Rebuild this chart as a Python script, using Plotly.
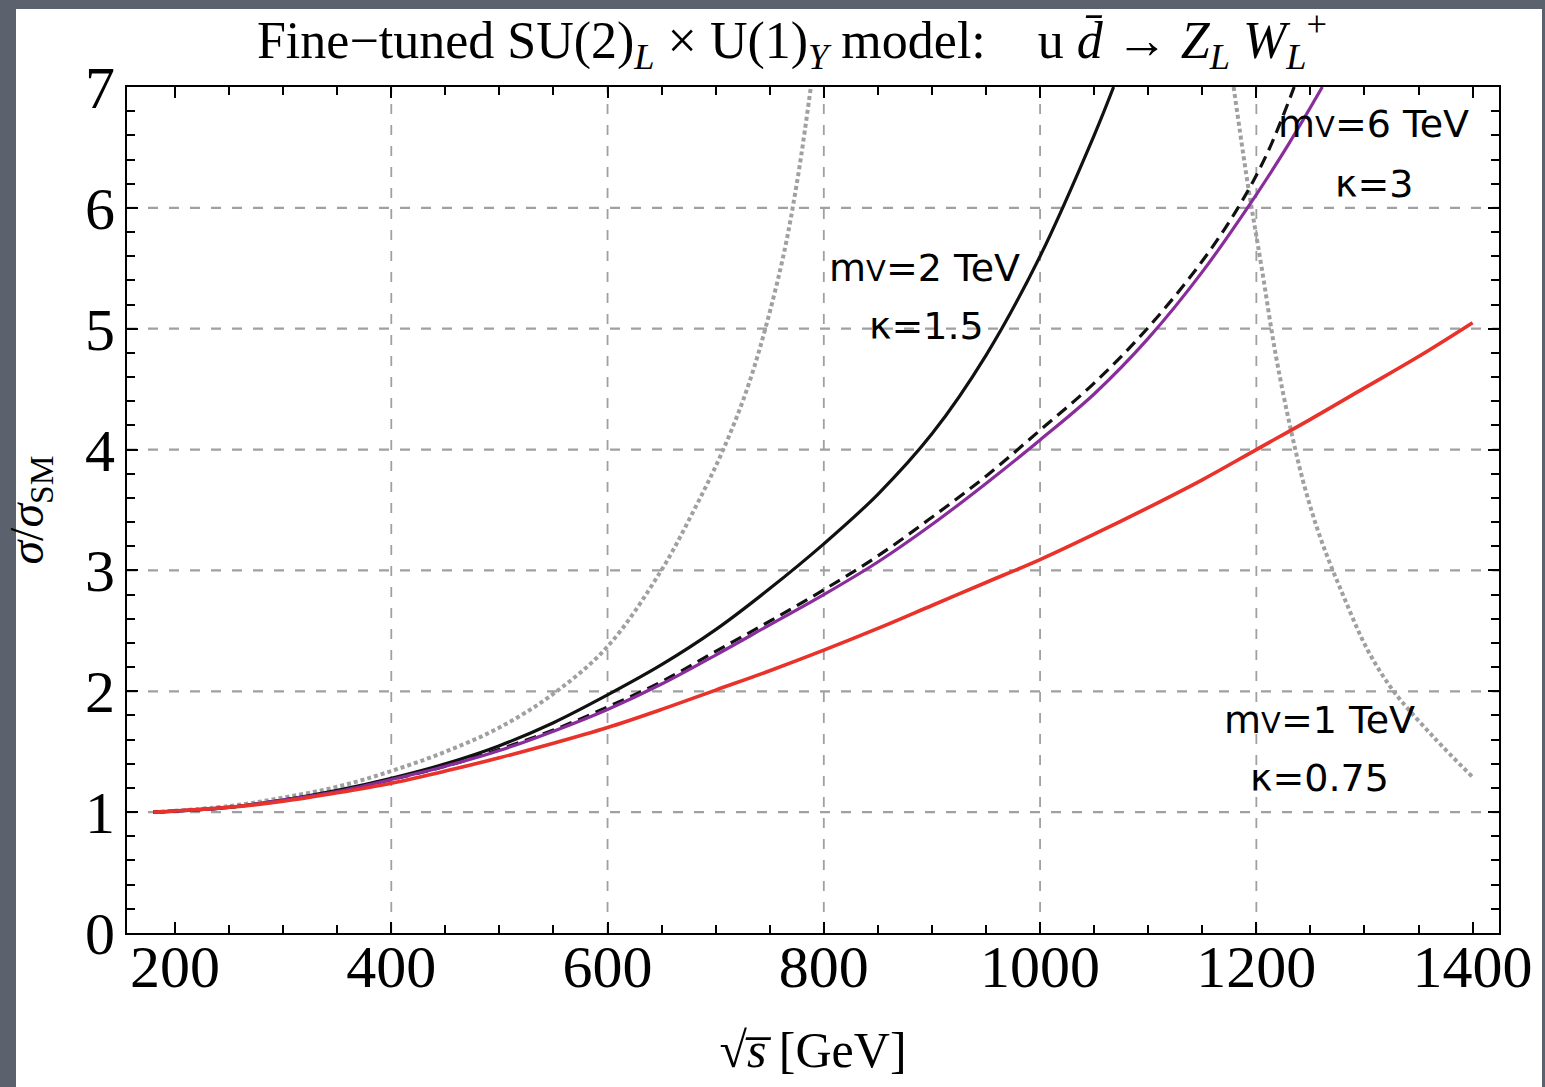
import plotly.graph_objects as go

# ---------------- data ----------------
x_red = [180, 250, 300, 350, 400, 450, 500, 550, 600, 650, 700, 750, 800, 850, 900,
         950, 1000, 1050, 1100, 1150, 1200, 1250, 1300, 1350, 1400]
y_red = [1.0, 1.04, 1.09, 1.16, 1.24, 1.34, 1.45, 1.57, 1.70, 1.85, 2.01, 2.17, 2.34,
         2.52, 2.71, 2.90, 3.09, 3.30, 3.52, 3.75, 4.0, 4.25, 4.51, 4.77, 5.05]

x_black = [180, 250, 300, 350, 400, 450, 500, 550, 600, 650, 700, 750, 800, 850, 900,
           950, 1000, 1050, 1068]
y_black = [1.0, 1.04, 1.10, 1.18, 1.28, 1.40, 1.55, 1.74, 1.97, 2.22, 2.51, 2.85, 3.22,
           3.63, 4.13, 4.78, 5.60, 6.60, 7.0]

x_dashed = [180, 250, 300, 350, 400, 450, 500, 550, 600, 650, 700, 750, 800, 850, 900,
            950, 1000, 1050, 1100, 1150, 1183, 1210, 1235]
y_dashed = [1.0, 1.04, 1.10, 1.17, 1.27, 1.38, 1.52, 1.68, 1.87, 2.08, 2.33, 2.58, 2.84,
            3.12, 3.44, 3.78, 4.16, 4.55, 5.01, 5.56, 6.0, 6.45, 7.0]

x_purple = [180, 250, 300, 350, 400, 450, 500, 550, 600, 650, 700, 750, 800, 850, 900,
            950, 1000, 1050, 1100, 1150, 1200, 1230, 1261]
y_purple = [1.0, 1.04, 1.10, 1.17, 1.27, 1.38, 1.51, 1.67, 1.85, 2.06, 2.30, 2.55, 2.80,
            3.07, 3.38, 3.72, 4.08, 4.46, 4.92, 5.47, 6.11, 6.53, 7.0]

x_dot_left = [180, 250, 300, 350, 400, 450, 500, 550, 600, 649, 680, 707, 732, 760, 775, 788]
y_dot_left = [1.0, 1.05, 1.12, 1.21, 1.34, 1.50, 1.70, 1.98, 2.37, 2.99, 3.5, 4.0, 4.58,
              5.5, 6.2, 7.0]

x_dot_right = [1179, 1192, 1205, 1218, 1232, 1245, 1260, 1280, 1303, 1327, 1364, 1400]
y_dot_right = [7.0, 6.2, 5.5, 4.78, 4.16, 3.68, 3.25, 2.8, 2.34, 2.0, 1.62, 1.29]

x_ticks = [200, 400, 600, 800, 1000, 1200, 1400]
y_ticks = [0, 1, 2, 3, 4, 5, 6, 7]
x_grid = [400, 600, 800, 1000, 1200]
y_grid = [1, 2, 3, 4, 5, 6]
x_range = [155.6, 1424.4]
y_range = [0, 7]

label_text = ["m<span style='font-size:29px'>V</span>=2 TeV", "κ=1.5",
              "m<span style='font-size:29px'>V</span>=6 TeV", "κ=3",
              "m<span style='font-size:29px'>V</span>=1 TeV", "κ=0.75"]
label_x = [893, 895, 1308, 1309, 1258, 1258]
label_y = [5.50, 5.02, 6.69, 6.20, 1.76, 1.28]

# ---------------- layout geometry ----------------
W, H = 1545, 1087
ML, MR, MT, MB = 127, 46, 87, 154
PW, PH = W - ML - MR, H - MT - MB


def px_to_paper_x(p):
    return (p - ML) / PW


def px_to_paper_y(p):
    return (H - MB - p) / PH


serif = "Liberation Serif, Times New Roman, serif"
hand = "DejaVu Sans, sans-serif"

fig = go.Figure()

dot_style = dict(color="#a0a0a0", width=4, dash="4px,3px", shape="spline")
fig.add_trace(go.Scatter(x=x_dot_left, y=y_dot_left, mode="lines", line=dot_style,
                         hoverinfo="skip", showlegend=False))
fig.add_trace(go.Scatter(x=x_dot_right, y=y_dot_right, mode="lines", line=dot_style,
                         hoverinfo="skip", showlegend=False))
fig.add_trace(go.Scatter(x=x_black, y=y_black, mode="lines",
                         line=dict(color="#111111", width=3.2, shape="spline"),
                         showlegend=False))
fig.add_trace(go.Scatter(x=x_dashed, y=y_dashed, mode="lines",
                         line=dict(color="#111111", width=3.2, dash="12px,7px", shape="spline"),
                         showlegend=False))
fig.add_trace(go.Scatter(x=x_purple, y=y_purple, mode="lines",
                         line=dict(color="#8a2d9c", width=3.2, shape="spline"),
                         showlegend=False))
fig.add_trace(go.Scatter(x=x_red, y=y_red, mode="lines",
                         line=dict(color="#e8322a", width=3.6, shape="spline"),
                         showlegend=False))

shapes = [dict(type="rect", xref="paper", yref="paper", layer="below",
               x0=px_to_paper_x(16), x1=px_to_paper_x(1542),
               y0=px_to_paper_y(1087), y1=px_to_paper_y(9),
               fillcolor="white", line=dict(width=0))]
for gx in x_grid:
    shapes.append(dict(type="line", xref="x", yref="paper", x0=gx, x1=gx, y0=0, y1=1,
                       layer="below", line=dict(color="#a0a0a0", width=1.8, dash="10px,11px")))
for gy in y_grid:
    shapes.append(dict(type="line", xref="paper", yref="y", x0=0, x1=1, y0=gy, y1=gy,
                       layer="below", line=dict(color="#a0a0a0", width=2.2, dash="10px,11px")))

annotations = []
for txt, ax_, ay_ in zip(label_text, label_x, label_y):
    annotations.append(dict(x=ax_, y=ay_, xref="x", yref="y", text=txt, showarrow=False,
                            font=dict(family=hand, size=38, color="black"),
                            xanchor="center", yanchor="middle"))

fig.update_layout(
    width=W, height=H,
    margin=dict(l=ML, r=MR, t=MT, b=MB, autoexpand=False),
    paper_bgcolor="#5c616e",
    plot_bgcolor="white",
    shapes=shapes,
    annotations=annotations,
    title=dict(
        text=("Fine−tuned SU(2)<sub><i>L</i></sub> × U(1)<sub><i>Y</i></sub> model:"
              "\u00a0\u00a0\u00a0 u <i>d̄</i> → <i>Z<sub>L</sub></i> <i>W</i><sub><i>L</i></sub><sup>+</sup>"),
        font=dict(family=serif, size=52, color="black"),
        x=px_to_paper_x(792), xref="paper", xanchor="center",
        y=1 - 40 / H, yref="container", yanchor="middle",
    ),
    xaxis=dict(
        range=x_range, tickmode="array", tickvals=x_ticks,
        ticks="inside", ticklen=11, tickwidth=1.5, tickcolor="black",
        minor=dict(tickmode="linear", tick0=200, dtick=50, ticks="inside", ticklen=8,
                   tickwidth=1.5, tickcolor="black", showgrid=False),
        showline=True, linecolor="black", linewidth=2, mirror="ticks",
        showgrid=False, zeroline=False,
        tickfont=dict(family=serif, size=60, color="black"),
        ticklabelstandoff=-20,
        title=dict(text="√<i>s̅</i> [GeV]", font=dict(family=serif, size=50, color="black"),
                   standoff=33),
    ),
    yaxis=dict(
        range=y_range, tickmode="array", tickvals=y_ticks,
        ticks="inside", ticklen=11, tickwidth=1.5, tickcolor="black",
        minor=dict(tickmode="linear", tick0=0, dtick=0.2, ticks="inside", ticklen=8,
                   tickwidth=1.5, tickcolor="black", showgrid=False),
        showline=True, linecolor="black", linewidth=2, mirror="ticks",
        showgrid=False, zeroline=False,
        tickfont=dict(family=serif, size=60, color="black"),
        ticklabelstandoff=-2,
        title=dict(text="<i>σ</i>/<i>σ</i><sub>SM</sub>",
                   font=dict(family=serif, size=48, color="black"), standoff=34),
    ),
)

fig.write_html("out.html")
